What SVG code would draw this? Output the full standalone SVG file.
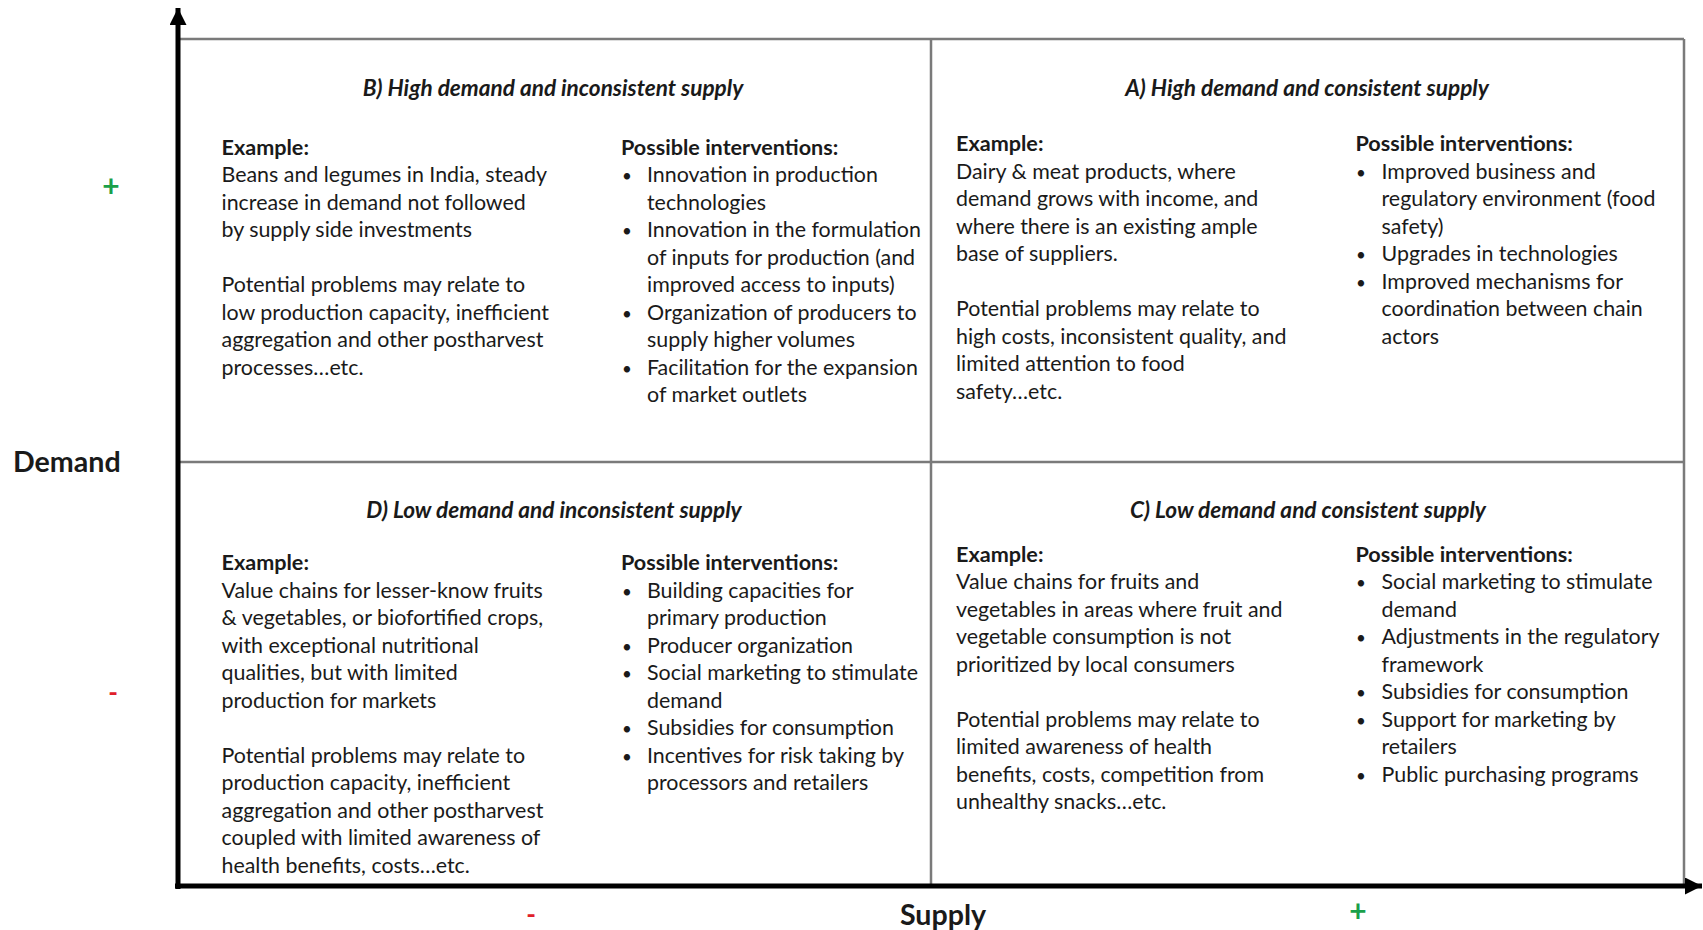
<svg xmlns="http://www.w3.org/2000/svg" width="1703" height="930" viewBox="0 0 1703 930">
<style>
  text { font-family: "Lato", "Open Sans", "Liberation Sans", sans-serif; fill: #1a1a1a; }
  .t { font-size: 21.4px; }
  .bl { font-size: 17px; text-anchor: middle; }
  .b { font-size: 21.6px; font-weight: bold; }
  .ti { font-size: 22.6px; font-weight: bold; font-style: italic; text-anchor: middle; }
  .ax { font-size: 28.6px; font-weight: bold; }
  .plus { font-size: 30px; font-weight: bold; fill: #1aa04a; text-anchor: middle; }
  .minus { font-size: 26px; font-weight: bold; fill: #e0202a; text-anchor: middle; }
  .grid { stroke: #7a7a7a; stroke-width: 2.5; fill: none; }
  .axis { stroke: #000; stroke-width: 5; fill: none; }
</style>
<defs>
  <marker id="arr" viewBox="0 0 10 10" refX="10" refY="5" markerWidth="3.4" markerHeight="3.4" orient="auto" markerUnits="strokeWidth">
    <path d="M0,0 L10,5 L0,10 z" fill="#000"/>
  </marker>
</defs>
<rect width="1703" height="930" fill="#fff"/>

<g id="grid">
  <line class="grid" x1="178" y1="39" x2="1684" y2="39"/>
  <line class="grid" x1="1684" y1="39" x2="1684" y2="886"/>
  <line class="grid" x1="931" y1="39" x2="931" y2="886"/>
  <line class="grid" x1="178" y1="462" x2="1684" y2="462"/>
</g>

<g id="connectors">
  <line class="axis" x1="178" y1="889" x2="178" y2="8" marker-end="url(#arr)"/>
  <line class="axis" x1="175" y1="886" x2="1702" y2="886" marker-end="url(#arr)"/>
</g>

<g id="axis-labels">
  <text class="ax" x="13" y="472">Demand</text>
  <text class="ax" x="943" y="925" text-anchor="middle">Supply</text>
  <text class="plus" x="111" y="197">+</text>
  <text class="minus" x="113" y="702">-</text>
  <text class="minus" x="531" y="924">-</text>
  <text class="plus" x="1358" y="922">+</text>
</g>

<g id="quadrant-B" transform="translate(0,2.5)">
  <text class="ti" x="553" y="93.5">B) High demand and inconsistent supply</text>
  <text class="b" x="221.5" y="152">Example:</text>
  <text class="t" x="221.5" y="179.5">Beans and legumes in India, steady</text>
  <text class="t" x="221.5" y="207">increase in demand not followed</text>
  <text class="t" x="221.5" y="234.5">by supply side investments</text>
  <text class="t" x="221.5" y="289.5">Potential problems may relate to</text>
  <text class="t" x="221.5" y="317">low production capacity, inefficient</text>
  <text class="t" x="221.5" y="344.5">aggregation and other postharvest</text>
  <text class="t" x="221.5" y="372">processes…etc.</text>
  <text class="b" x="621" y="152">Possible interventions:</text>
  <text class="bl" x="627" y="179.5">•</text><text class="t" x="647" y="179.5">Innovation in production</text>
  <text class="t" x="647" y="207">technologies</text>
  <text class="bl" x="627" y="234.5">•</text><text class="t" x="647" y="234.5">Innovation in the formulation</text>
  <text class="t" x="647" y="262">of inputs for production (and</text>
  <text class="t" x="647" y="289.5">improved access to inputs)</text>
  <text class="bl" x="627" y="317">•</text><text class="t" x="647" y="317">Organization of producers to</text>
  <text class="t" x="647" y="344.5">supply higher volumes</text>
  <text class="bl" x="627" y="372">•</text><text class="t" x="647" y="372">Facilitation for the expansion</text>
  <text class="t" x="647" y="399.5">of market outlets</text>
</g>

<g id="quadrant-A" transform="translate(0,2.5)">
  <text class="ti" x="1307" y="93.5">A) High demand and consistent supply</text>
  <text class="b" x="956" y="148.5">Example:</text>
  <text class="t" x="956" y="176">Dairy &amp; meat products, where</text>
  <text class="t" x="956" y="203.5">demand grows with income, and</text>
  <text class="t" x="956" y="231">where there is an existing ample</text>
  <text class="t" x="956" y="258.5">base of suppliers.</text>
  <text class="t" x="956" y="313.5">Potential problems may relate to</text>
  <text class="t" x="956" y="341">high costs, inconsistent quality, and</text>
  <text class="t" x="956" y="368.5">limited attention to food</text>
  <text class="t" x="956" y="396">safety…etc.</text>
  <text class="b" x="1355.5" y="148.5">Possible interventions:</text>
  <text class="bl" x="1361" y="176">•</text><text class="t" x="1381.5" y="176">Improved business and</text>
  <text class="t" x="1381.5" y="203.5">regulatory environment (food</text>
  <text class="t" x="1381.5" y="231">safety)</text>
  <text class="bl" x="1361" y="258.5">•</text><text class="t" x="1381.5" y="258.5">Upgrades in technologies</text>
  <text class="bl" x="1361" y="286">•</text><text class="t" x="1381.5" y="286">Improved mechanisms for</text>
  <text class="t" x="1381.5" y="313.5">coordination between chain</text>
  <text class="t" x="1381.5" y="341">actors</text>
</g>

<g id="quadrant-D" transform="translate(0,2.5)">
  <text class="ti" x="554" y="515.5">D) Low demand and inconsistent supply</text>
  <text class="b" x="221.5" y="567.5">Example:</text>
  <text class="t" x="221.5" y="595">Value chains for lesser-know fruits</text>
  <text class="t" x="221.5" y="622.5">&amp; vegetables, or biofortified crops,</text>
  <text class="t" x="221.5" y="650">with exceptional nutritional</text>
  <text class="t" x="221.5" y="677.5">qualities, but with limited</text>
  <text class="t" x="221.5" y="705">production for markets</text>
  <text class="t" x="221.5" y="760">Potential problems may relate to</text>
  <text class="t" x="221.5" y="787.5">production capacity, inefficient</text>
  <text class="t" x="221.5" y="815">aggregation and other postharvest</text>
  <text class="t" x="221.5" y="842.5">coupled with limited awareness of</text>
  <text class="t" x="221.5" y="870">health benefits, costs…etc.</text>
  <text class="b" x="621" y="567.5">Possible interventions:</text>
  <text class="bl" x="627" y="595">•</text><text class="t" x="647" y="595">Building capacities for</text>
  <text class="t" x="647" y="622.5">primary production</text>
  <text class="bl" x="627" y="650">•</text><text class="t" x="647" y="650">Producer organization</text>
  <text class="bl" x="627" y="677.5">•</text><text class="t" x="647" y="677.5">Social marketing to stimulate</text>
  <text class="t" x="647" y="705">demand</text>
  <text class="bl" x="627" y="732.5">•</text><text class="t" x="647" y="732.5">Subsidies for consumption</text>
  <text class="bl" x="627" y="760">•</text><text class="t" x="647" y="760">Incentives for risk taking by</text>
  <text class="t" x="647" y="787.5">processors and retailers</text>
</g>

<g id="quadrant-C" transform="translate(0,2.5)">
  <text class="ti" x="1308" y="515.5">C) Low demand and consistent supply</text>
  <text class="b" x="956" y="559">Example:</text>
  <text class="t" x="956" y="586.5">Value chains for fruits and</text>
  <text class="t" x="956" y="614">vegetables in areas where fruit and</text>
  <text class="t" x="956" y="641.5">vegetable consumption is not</text>
  <text class="t" x="956" y="669">prioritized by local consumers</text>
  <text class="t" x="956" y="724">Potential problems may relate to</text>
  <text class="t" x="956" y="751.5">limited awareness of health</text>
  <text class="t" x="956" y="779">benefits, costs, competition from</text>
  <text class="t" x="956" y="806.5">unhealthy snacks…etc.</text>
  <text class="b" x="1355.5" y="559">Possible interventions:</text>
  <text class="bl" x="1361" y="586.5">•</text><text class="t" x="1381.5" y="586.5">Social marketing to stimulate</text>
  <text class="t" x="1381.5" y="614">demand</text>
  <text class="bl" x="1361" y="641.5">•</text><text class="t" x="1381.5" y="641.5">Adjustments in the regulatory</text>
  <text class="t" x="1381.5" y="669">framework</text>
  <text class="bl" x="1361" y="696.5">•</text><text class="t" x="1381.5" y="696.5">Subsidies for consumption</text>
  <text class="bl" x="1361" y="724">•</text><text class="t" x="1381.5" y="724">Support for marketing by</text>
  <text class="t" x="1381.5" y="751.5">retailers</text>
  <text class="bl" x="1361" y="779">•</text><text class="t" x="1381.5" y="779">Public purchasing programs</text>
</g>
</svg>
